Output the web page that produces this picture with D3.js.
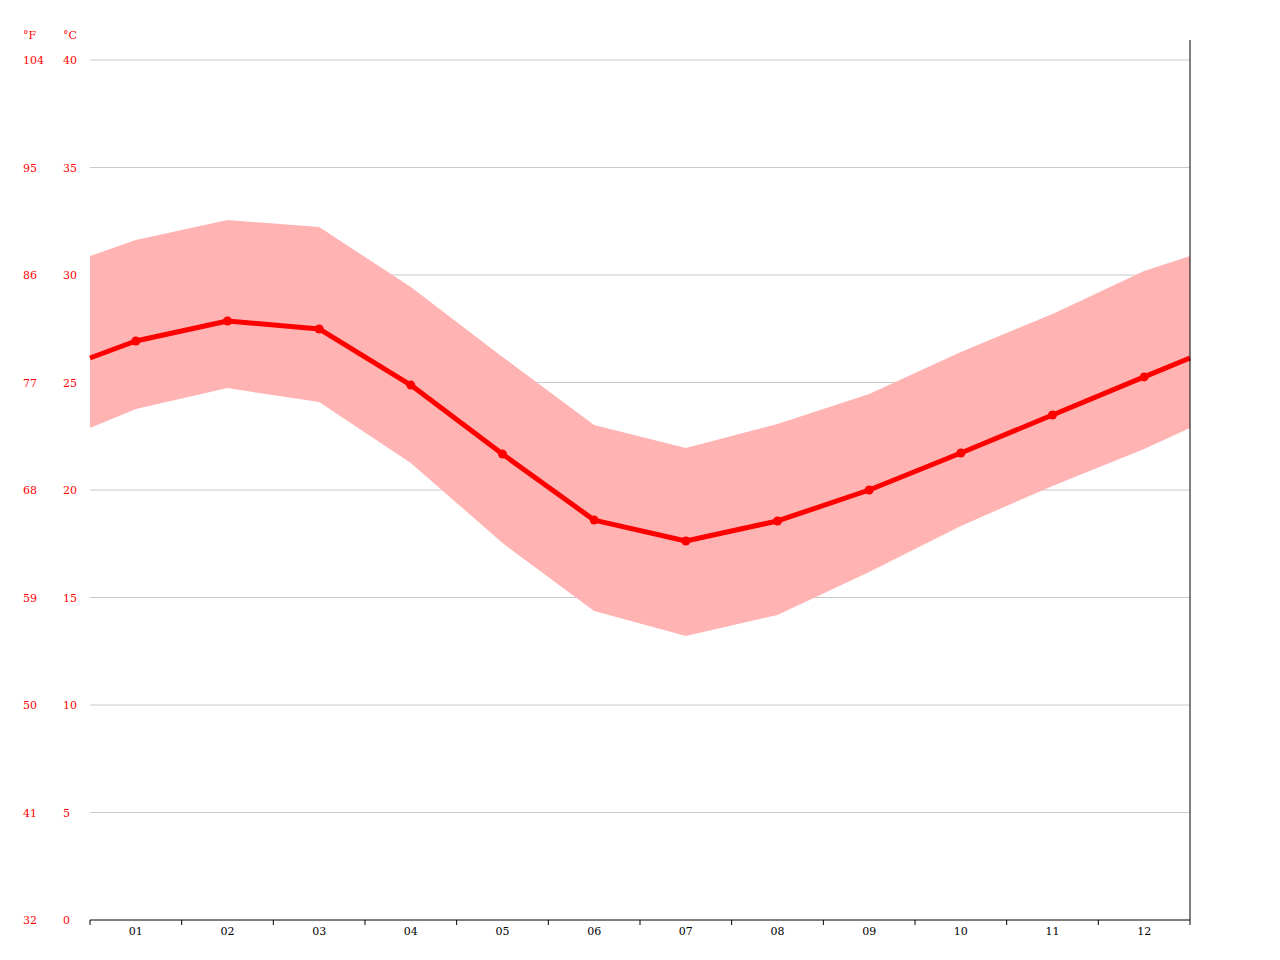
<!DOCTYPE html>
<html><head><meta charset="utf-8">
<script src="https://cdn.jsdelivr.net/npm/d3@7"></script>
<style>body{margin:0;background:#fff}</style></head>
<body><svg id="c" width="1280" height="960"></svg>
<script>
const months=["01","02","03","04","05","06","07","08","09","10","11","12"];
const meanC=[26.93,27.86,27.49,24.88,21.67,18.6,17.63,18.56,20.0,21.72,23.49,25.26];
const highC=[31.63,32.56,32.23,29.44,26.19,23.02,21.95,23.07,24.47,26.42,28.19,30.19];
const lowC=[23.77,24.74,24.09,21.26,17.53,14.37,13.21,14.19,16.19,18.33,20.19,21.91];
// values at the year boundary (left/right chart edges)
const edgeMean=26.14, edgeHigh=30.88, edgeLow=22.88;
const cTicks=[0,5,10,15,20,25,30,35,40];
const fTicks=["32","41","50","59","68","77","86","95","104"];

const svg=d3.select("#c");
const L=90,R=1190,T=60,B=920;
const x=d3.scaleLinear().domain([0,12]).range([L,R]);
const y=d3.scaleLinear().domain([0,40]).range([B,T]);
const font="DejaVu Serif";

svg.append("g").selectAll("line").data(cTicks.slice(1)).join("line")
 .attr("x1",L).attr("x2",R).attr("y1",d=>y(d)).attr("y2",d=>y(d))
 .attr("stroke","#c8c8c8").attr("stroke-width",1);

const pts=(arr,edge)=>[[0,edge],...arr.map((v,i)=>[i+0.5,v]),[12,edge]];
const hi=pts(highC,edgeHigh), lo=pts(lowC,edgeLow), me=pts(meanC,edgeMean);
const band=hi.map((p,i)=>({x:p[0],h:p[1],l:lo[i][1]}));
svg.append("path").datum(band)
 .attr("d",d3.area().x(d=>x(d.x)).y0(d=>y(d.l)).y1(d=>y(d.h)))
 .attr("fill","#ffb3b3");
svg.append("path").datum(me)
 .attr("d",d3.line().x(d=>x(d[0])).y(d=>y(d[1])))
 .attr("fill","none").attr("stroke","#ff0000").attr("stroke-width",5).attr("stroke-linejoin","round");
svg.append("g").selectAll("circle").data(meanC).join("circle")
 .attr("cx",(d,i)=>x(i+0.5)).attr("cy",d=>y(d)).attr("r",4.5).attr("fill","#ff0000");

// left labels
const lab=svg.append("g").attr("font-family",font).attr("font-size",11).attr("fill","#ff0000");
lab.selectAll(".c").data(cTicks).join("text").attr("x",63).attr("y",d=>y(d)+4).text(d=>d);
lab.selectAll(".f").data(fTicks).join("text").attr("x",23).attr("y",(d,i)=>y(cTicks[i])+4).text(d=>d);
lab.append("text").attr("x",23).attr("y",39).text("°F");
lab.append("text").attr("x",63).attr("y",39).text("°C");

// bottom axis
const g=svg.append("g").attr("transform",`translate(0,${B})`);
g.append("line").attr("x1",L).attr("x2",R).attr("stroke","#000");
g.selectAll(".t").data(d3.range(0,13)).join("line").attr("x1",d=>x(d)).attr("x2",d=>x(d)).attr("y1",0).attr("y2",5).attr("stroke","#000");
g.selectAll("text").data(months).join("text").attr("x",(d,i)=>x(i+0.5)).attr("y",15)
 .attr("text-anchor","middle").attr("font-family",font).attr("font-size",11).attr("fill","#000").text(d=>d);
svg.append("line").attr("x1",R).attr("x2",R).attr("y1",40).attr("y2",B).attr("stroke","#000");
</script></body></html>
